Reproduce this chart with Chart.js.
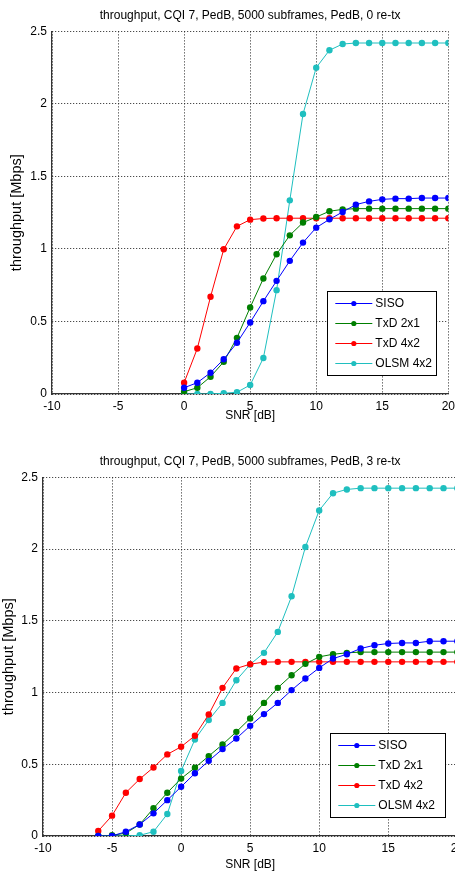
<!DOCTYPE html>
<html><head><meta charset="utf-8">
<script src="https://cdn.jsdelivr.net/npm/chart.js@4"></script>
<style>
html,body{margin:0;padding:0;background:#fff;overflow:hidden;width:455px;height:875px;position:relative;}
#c1{position:absolute;left:0;top:0;}
#c2{position:absolute;left:0;top:440px;}
</style></head><body>
<canvas id="c1" width="460" height="430"></canvas>
<canvas id="c2" width="469" height="435"></canvas>
<script>
// ---- data ----
const seriesNames = ['SISO', 'TxD 2x1', 'TxD 4x2', 'OLSM 4x2'];
const xTickValues = [-10, -5, 0, 5, 10, 15, 20];
const yTickValues = [0, 0.5, 1, 1.5, 2, 2.5];
const titleTop = 'throughput, CQI 7, PedB, 5000 subframes, PedB, 0 re-tx';
const titleBottom = 'throughput, CQI 7, PedB, 5000 subframes, PedB, 3 re-tx';
const xTitle = 'SNR [dB]';
const yTitle = 'throughput [Mbps]';

const snrTop = [0,1,2,3,4,5,6,7,8,9,10,11,12,13,14,15,16,17,18,19,20];
const sisoTop = [0.043,0.078,0.147,0.24,0.353,0.493,0.64,0.78,0.918,1.044,1.147,1.204,1.255,1.306,1.328,1.342,1.347,1.347,1.351,1.351,1.351];
const txd21Top = [0.016,0.043,0.119,0.222,0.387,0.597,0.796,0.964,1.094,1.182,1.22,1.26,1.273,1.278,1.278,1.278,1.278,1.278,1.278,1.278,1.278];
const txd42Top = [0.078,0.314,0.67,0.998,1.156,1.202,1.21,1.212,1.212,1.212,1.212,1.212,1.212,1.212,1.212,1.212,1.212,1.212,1.212,1.212,1.212];
const olsmTop = [0.0,0.0,0.0,0.005,0.012,0.062,0.248,0.716,1.335,1.93,2.25,2.37,2.413,2.42,2.42,2.42,2.42,2.42,2.42,2.42,2.42];

const snrBottom = [-6,-5,-4,-3,-2,-1,0,1,2,3,4,5,6,7,8,9,10,11,12,13,14,15,16,17,18,19,20];
const sisoBottom = [0.0,0.0,0.03,0.08,0.158,0.25,0.343,0.437,0.524,0.606,0.68,0.768,0.85,0.928,1.017,1.098,1.172,1.237,1.267,1.307,1.33,1.342,1.346,1.346,1.358,1.358,1.358];
const txd21Bottom = [0.0,0.005,0.02,0.08,0.193,0.302,0.40,0.476,0.557,0.638,0.726,0.82,0.928,1.033,1.121,1.2,1.249,1.267,1.277,1.282,1.282,1.282,1.282,1.282,1.282,1.282,1.282];
const txd42Bottom = [0.035,0.142,0.302,0.397,0.478,0.569,0.622,0.699,0.847,1.033,1.168,1.198,1.212,1.214,1.214,1.214,1.214,1.214,1.214,1.214,1.214,1.214,1.214,1.214,1.214,1.214,1.214];
const olsmBottom = [0.0,0.0,0.0,0.005,0.03,0.153,0.453,0.673,0.808,0.928,1.086,1.196,1.277,1.423,1.671,2.015,2.27,2.39,2.416,2.425,2.425,2.425,2.425,2.425,2.425,2.425,2.425];

// ---- styles ----
const colors = ['#0000ff', '#007f00', '#ff0000', '#1fbfbf'];
const FONT = "'Liberation Sans', Arial, sans-serif";

function pts(xs, ys) { return xs.map((x, i) => ({x: x, y: ys[i]})); }

const legendBox = {
  id: 'legendBox',
  afterDatasetsDraw(chart, args, opts) {
    const ctx = chart.ctx, ca = chart.chartArea;
    const w = opts.width, rowH = 20, h = 84;
    const x0 = ca.right - opts.marginRight - w;
    const y0 = ca.bottom - opts.marginBottom - h;
    ctx.save();
    ctx.fillStyle = '#fff';
    ctx.fillRect(x0, y0, w, h);
    ctx.strokeStyle = '#000';
    ctx.lineWidth = 1;
    ctx.strokeRect(Math.round(x0) + 0.5, Math.round(y0) + 0.5, w, h);
    ctx.font = '12px ' + FONT;
    ctx.textBaseline = 'middle';
    chart.data.datasets.forEach((ds, i) => {
      const cy = y0 + 12.5 + i * rowH;
      ctx.strokeStyle = ds.borderColor;
      ctx.lineWidth = 1;
      ctx.beginPath();
      ctx.moveTo(x0 + 8, cy); ctx.lineTo(x0 + 8 + opts.lineLen, cy);
      ctx.stroke();
      ctx.fillStyle = ds.borderColor;
      ctx.beginPath();
      ctx.arc(x0 + 8 + opts.lineLen / 2, cy, 2.6, 0, Math.PI * 2);
      ctx.fill();
      ctx.fillStyle = '#000';
      ctx.fillText(ds.label, x0 + 8 + opts.lineLen + 3, cy + 0.5);
    });
    ctx.restore();
  }
};

function makeChart(id, xs, seriesList, title, cfg) {
  const datasets = seriesList.map((ys, i) => ({
    label: seriesNames[i],
    data: pts(xs, ys),
    borderColor: colors[i],
    backgroundColor: colors[i],
    borderWidth: 1,
    pointRadius: 3.2,
    pointHoverRadius: 3.2,
    pointStyle: 'circle',
    pointBorderWidth: 0,
    tension: 0
  }));
  return new Chart(document.getElementById(id), {
    type: 'line',
    data: { datasets: datasets },
    plugins: [legendBox],
    options: {
      responsive: false,
      animation: false,
      events: [],
      layout: { padding: { left: 0, right: 0, top: 0, bottom: 0 } },
      plugins: {
        legend: { display: false },
        tooltip: { enabled: false },
        title: {
          display: true, text: title, color: '#000', fullSize: false,
          font: { family: FONT, size: 12, weight: 'normal', lineHeight: 1.2 },
          padding: { top: cfg.titleTop, bottom: cfg.titleBottom }
        },
        legendBox: { width: cfg.legendW, lineLen: 37, marginRight: 12, marginBottom: 19 }
      },
      scales: {
        x: {
          type: 'linear', min: -10, max: 20,
          afterBuildTicks: (s) => { s.ticks = xTickValues.map(v => ({value: v})); },
          afterFit: (s) => { s.height = cfg.xHeight; },
          grid: { color: '#222', lineWidth: 1, drawTicks: false },
          border: { display: true, color: '#333', width: 1.2, dash: [1, 2] },
          ticks: { color: '#000', font: { family: FONT, size: 12 }, padding: 5, maxRotation: 0,
                   callback: (v) => String(v) },
          title: { display: true, text: xTitle, color: '#000', font: { family: FONT, size: 12 }, padding: { top: 0, bottom: cfg.xTitlePad } }
        },
        y: {
          type: 'linear', min: 0, max: 2.5,
          afterBuildTicks: (s) => { s.ticks = yTickValues.map(v => ({value: v})); },
          afterFit: (s) => { s.width = cfg.yWidth; },
          grid: { color: '#222', lineWidth: 1, drawTicks: false },
          border: { display: true, color: '#333', width: 1.2, dash: [1, 2] },
          ticks: { color: '#000', font: { family: FONT, size: 12 }, padding: 5,
                   callback: (v) => String(v) },
          title: { display: true, text: yTitle, color: '#000', font: { family: FONT, size: 14.5 }, padding: { top: cfg.yTitlePad, bottom: 0 } }
        }
      }
    }
  });
}

const c1 = makeChart('c1', snrTop, [sisoTop, txd21Top, txd42Top, olsmTop], titleTop,
  { titleTop: 8, titleBottom: 9, xHeight: 36, xTitlePad: 7, yWidth: 52, yTitlePad: 8, legendW: 109 });
const c2 = makeChart('c2', snrBottom, [sisoBottom, txd21Bottom, txd42Bottom, olsmBottom], titleBottom,
  { titleTop: 14, titleBottom: 9, xHeight: 39, xTitlePad: 3, yWidth: 43, yTitlePad: 0, legendW: 115 });
</script>
</body></html>
